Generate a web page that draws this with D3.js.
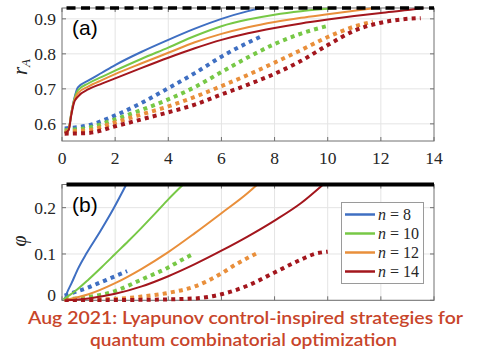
<!DOCTYPE html>
<html><head><meta charset="utf-8">
<script src="https://cdn.jsdelivr.net/npm/d3@7"></script>
<style>body{margin:0;background:#fff}svg{display:block}</style>
</head><body>
<svg id="c" width="480" height="351"></svg>
<script>
// ---------- data ----------
const nValues = [8, 10, 12, 14];
const colors = ["#3f6fc2", "#77c846", "#e98f3b", "#a3161d"];
const xTicks = [0, 2, 4, 6, 8, 10, 12, 14];
const yTicksA = [0.6, 0.7, 0.8, 0.9];
const yTicksB = [0, 0.1, 0.2];
const targetA = 0.931;
const targetB = 0.25;
const targetStart = 0.17;

// panel (a): r_A, solid curves
const rAsolid8  = [[0.1,0.576],[0.25,0.585],[0.35,0.63],[0.45,0.668],[0.6,0.704],[1,0.724],[1.5,0.746],[2,0.768],[3,0.806],[4,0.84],[5,0.872],[6,0.9],[7,0.922],[7.5,0.931]];
const rAsolid10 = [[0.1,0.576],[0.25,0.585],[0.35,0.63],[0.45,0.666],[0.6,0.696],[1,0.716],[1.5,0.734],[2,0.752],[3,0.786],[4,0.818],[5,0.851],[6,0.879],[7,0.898],[8,0.912],[9,0.922],[10,0.929],[10.3,0.931]];
const rAsolid12 = [[0.1,0.576],[0.25,0.585],[0.35,0.63],[0.45,0.664],[0.6,0.688],[1,0.707],[1.5,0.725],[2,0.742],[3,0.773],[4,0.803],[5,0.833],[6,0.857],[7,0.876],[8,0.891],[9,0.903],[10,0.913],[11,0.923],[11.8,0.931]];
const rAsolid14 = [[0.1,0.574],[0.25,0.582],[0.35,0.625],[0.45,0.66],[0.6,0.678],[1,0.699],[1.5,0.715],[2,0.73],[3,0.76],[4,0.789],[5,0.816],[6,0.84],[7,0.859],[8,0.874],[9,0.887],[10,0.898],[11,0.908],[12,0.917],[13,0.925],[13.6,0.931]];
// panel (a): r_A, dotted curves
const rAdot8  = [[0.1,0.587],[1,0.596],[2,0.624],[3,0.66],[4,0.702],[5,0.745],[6,0.792],[7,0.832],[7.5,0.85]];
const rAdot10 = [[0.1,0.582],[1,0.589],[2,0.613],[3,0.64],[4,0.67],[5,0.705],[6,0.748],[7,0.79],[8,0.828],[9,0.858],[10,0.88]];
const rAdot12 = [[0.1,0.578],[1,0.582],[2,0.604],[3,0.627],[4,0.65],[5,0.677],[6,0.708],[7,0.74],[8,0.775],[9,0.811],[10,0.848],[11,0.878],[11.7,0.892]];
const rAdot14 = [[0.1,0.572],[1,0.574],[2,0.593],[3,0.613],[4,0.633],[5,0.655],[6,0.684],[7,0.712],[8,0.743],[9,0.78],[10,0.825],[11,0.866],[12,0.889],[13,0.9],[13.5,0.902]];

// panel (b): phi, solid curves
const phiSolid8  = [[0.1,0.002],[0.18,0.015],[0.36,0.037],[0.61,0.069],[0.93,0.102],[1.43,0.148],[1.93,0.197],[2.42,0.25]];
const phiSolid10 = [[0.05,0.002],[0.5,0.02],[1,0.045],[1.5,0.072],[2,0.1],[2.5,0.128],[3,0.157],[3.5,0.187],[4,0.218],[4.56,0.25]];
const phiSolid12 = [[0.1,0],[1,0.013],[2,0.037],[3,0.068],[4,0.104],[5,0.145],[6,0.188],[7,0.232],[7.35,0.25]];
const phiSolid14 = [[0.1,0],[1,0.004],[2,0.014],[3,0.03],[4,0.052],[5,0.078],[6,0.107],[7,0.138],[8,0.172],[9,0.21],[9.83,0.25]];
// panel (b): phi, dotted curves
const phiDot8  = [[0.1,0.01],[0.5,0.018],[1,0.028],[1.5,0.04],[2,0.052],[2.45,0.063]];
const phiDot10 = [[0.1,0.002],[1,0.007],[2,0.02],[3,0.045],[4,0.071],[4.5,0.087],[4.9,0.099]];
const phiDot12 = [[0.1,0.001],[2,0.003],[3,0.008],[4,0.016],[5,0.03],[6,0.058],[6.5,0.076],[7,0.092],[7.35,0.102]];
const phiDot14 = [[0.1,0],[3,0.001],[5,0.004],[6,0.013],[7,0.032],[8,0.06],[9,0.088],[9.5,0.1],[10,0.105]];

const topSolid = [rAsolid8, rAsolid10, rAsolid12, rAsolid14];
const topDot = [rAdot8, rAdot10, rAdot12, rAdot14];
const botSolid = [phiSolid8, phiSolid10, phiSolid12, phiSolid14];
const botDot = [phiDot8, phiDot10, phiDot12, phiDot14];

// ---------- drawing ----------
const svg = d3.select("#c");
const serif = "'Liberation Serif', 'DejaVu Serif', serif";
const x = d3.scaleLinear().domain([0, 14]).range([62, 434]);
const yA = d3.scaleLinear().domain([0.551, 0.931]).range([141, 8]);
const yB = d3.scaleLinear().domain([0, 0.25]).range([300.3, 184.5]);

function panel(y, yTicks, solids, dots, id, showX, tickFmt) {
  const g = svg.append("g");
  const [y0, y1] = y.range();
  const [x0, x1] = x.range();
  g.selectAll(".gx").data(xTicks.slice(1, -1)).enter().append("line")
    .attr("x1", d => x(d)).attr("x2", d => x(d)).attr("y1", y0).attr("y2", y1)
    .attr("stroke", "#e4e4e4").attr("stroke-width", 1);
  g.selectAll(".gy").data(yTicks).enter().append("line")
    .attr("x1", x0).attr("x2", x1).attr("y1", d => y(d)).attr("y2", d => y(d))
    .attr("stroke", "#e4e4e4").attr("stroke-width", 1);
  g.append("rect").attr("x", x0).attr("y", y1).attr("width", x1 - x0).attr("height", y0 - y1)
    .attr("fill", "none").attr("stroke", "#707070").attr("stroke-width", 1);
  xTicks.forEach(t => {
    g.append("line").attr("x1", x(t)).attr("x2", x(t)).attr("y1", y0).attr("y2", y0 - 4).attr("stroke", "#707070");
    g.append("line").attr("x1", x(t)).attr("x2", x(t)).attr("y1", y1).attr("y2", y1 + 4).attr("stroke", "#707070");
  });
  yTicks.forEach(t => {
    g.append("line").attr("x1", x0).attr("x2", x0 + 4).attr("y1", y(t)).attr("y2", y(t)).attr("stroke", "#707070");
    g.append("line").attr("x1", x1).attr("x2", x1 - 4).attr("y1", y(t)).attr("y2", y(t)).attr("stroke", "#707070");
  });
  g.selectAll(".yl").data(yTicks).enter().append("text")
    .attr("x", x0 - 6).attr("y", d => Math.min(y(d) + 6, 301)).attr("text-anchor", "end")
    .attr("font-family", serif).attr("font-size", 17.5).attr("fill", "#262626")
    .text(tickFmt);
  if (showX) {
    g.selectAll(".xl").data(xTicks).enter().append("text")
      .attr("x", d => x(d)).attr("y", y0 + 23).attr("text-anchor", "middle")
      .attr("font-family", serif).attr("font-size", 17.5).attr("fill", "#262626")
      .text(d => d);
  }
  svg.append("clipPath").attr("id", id).append("rect")
    .attr("x", x0).attr("y", y1 - 2).attr("width", x1 - x0).attr("height", y0 - y1 + 4);
  const line = d3.line().x(d => x(d[0])).y(d => y(d[1])).curve(d3.curveMonotoneX);
  const dg = g.append("g").attr("clip-path", `url(#${id})`);
  dots.forEach((s, i) => {
    dg.append("path").attr("d", line(s)).attr("fill", "none").attr("stroke", colors[i])
      .attr("stroke-width", 4).attr("stroke-dasharray", "4,4.2");
  });
  solids.forEach((s, i) => {
    dg.append("path").attr("d", line(s)).attr("fill", "none").attr("stroke", colors[i])
      .attr("stroke-width", 2);
  });
  return g;
}

const gA = panel(yA, yTicksA, topSolid, topDot, "clipA", true, d => d.toFixed(1));
gA.append("line").attr("x1", x(targetStart)).attr("x2", x(14)).attr("y1", yA(targetA)).attr("y2", yA(targetA))
  .attr("stroke", "#000").attr("stroke-width", 3.5).attr("stroke-dasharray", "9,5.5");
const gB = panel(yB, yTicksB, botSolid, botDot, "clipB", false, d => d === 0 ? "0" : d.toFixed(1));
gB.append("line").attr("x1", x(targetStart)).attr("x2", x(14)).attr("y1", yB(targetB)).attr("y2", yB(targetB))
  .attr("stroke", "#000").attr("stroke-width", 4);

// panel labels
svg.append("text").attr("x", 72).attr("y", 35).attr("font-family", "'Liberation Sans', Arial, sans-serif")
  .attr("font-size", 21).attr("fill", "#000").text("(a)");
svg.append("text").attr("x", 72).attr("y", 212).attr("font-family", "'Liberation Sans', Arial, sans-serif")
  .attr("font-size", 21).attr("fill", "#000").text("(b)");

// axis labels
const ylA = svg.append("text").attr("transform", "translate(27,67) rotate(-90)").attr("text-anchor", "middle")
  .attr("font-family", serif).attr("font-style", "italic").attr("font-size", 21).attr("fill", "#262626");
ylA.append("tspan").text("r");
ylA.append("tspan").attr("font-size", 13).attr("dy", 3).text("A");
svg.append("text").attr("transform", "translate(26,241) rotate(-90)").attr("text-anchor", "middle")
  .attr("font-family", serif).attr("font-style", "italic").attr("font-size", 20).attr("fill", "#262626").text("φ");

// legend
const lg = svg.append("g");
lg.append("rect").attr("x", 341.5).attr("y", 202.5).attr("width", 82).attr("height", 81)
  .attr("fill", "#fff").attr("stroke", "#9a9a9a").attr("stroke-width", 1);
nValues.forEach((n, i) => {
  const yy = 214.5 + i * 19;
  lg.append("line").attr("x1", 345).attr("x2", 375).attr("y1", yy).attr("y2", yy)
    .attr("stroke", colors[i]).attr("stroke-width", 2.5);
  const t = lg.append("text").attr("x", 378).attr("y", yy + 5).attr("font-family", serif)
    .attr("font-size", 16).attr("fill", "#262626");
  t.append("tspan").attr("font-style", "italic").text("n");
  t.append("tspan").text(" = " + n);
});

// caption
svg.append("rect").attr("x", 0).attr("y", 302).attr("width", 480).attr("height", 49).attr("fill", "#fff");
const cap = ["Aug 2021: Lyapunov control-inspired strategies for", "quantum combinatorial optimization"];
const capX = [245.5, 243.5], capY = [324, 346], capW = [435, 307];
cap.forEach((c, i) => {
  svg.append("text").attr("x", capX[i]).attr("y", capY[i]).attr("text-anchor", "middle")
    .attr("font-family", "Lato, 'Open Sans', sans-serif").attr("font-size", 17.5).attr("font-weight", 600)
    .attr("fill", "#c8452a").attr("textLength", capW[i]).attr("lengthAdjust", "spacingAndGlyphs").text(c);
});
</script>
</body></html>
